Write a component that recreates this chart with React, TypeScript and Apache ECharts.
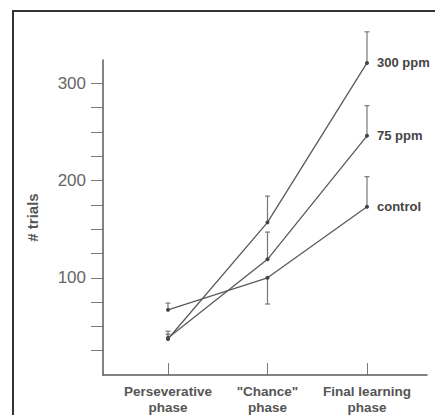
import React, { useEffect, useRef } from "react";
import * as echarts from "echarts";

const categories = ["Perseverative\nphase", "\"Chance\"\nphase", "Final learning\nphase"];
const seriesNames = ["300 ppm", "75 ppm", "control"];
const ppm300 = [37, 157, 321];
const ppm75 = [38, 119, 246];
const control = [67, 100, 173];
const err300 = [45, 184, 353];
const err75 = [42, 147, 277];
const errControl = [74, 73, 204];
const yTickValues = [25, 50, 75, 100, 125, 150, 175, 200, 225, 250, 275, 300];
const yLabelValues = [100, 200, 300];

const LINE = "#5a5a5a";
const TEXT = "#555";

export default function App() {
  const ref = useRef<HTMLDivElement>(null);
  useEffect(() => {
    if (!ref.current) return;
    const chart = echarts.init(ref.current, undefined, { renderer: "svg" });
    const values = [ppm300, ppm75, control];
    const errs = [err300, err75, errControl];
    const lineSeries = values.map((vals, si) => ({
      type: "line",
      name: seriesNames[si],
      data: vals.map((v, i) => [i, v]),
      clip: false,
      symbol: "circle",
      symbolSize: 4,
      itemStyle: { color: "#444" },
      lineStyle: { color: LINE, width: 1.3 },
      label: {
        show: true,
        position: "right",
        distance: 8,
        color: "#444",
        fontSize: 13,
        fontWeight: "bold",
        fontFamily: "Liberation Sans, Arial, sans-serif",
        formatter: (p: any) => (p.dataIndex === vals.length - 1 ? seriesNames[si] : ""),
      },
      z: 3,
    }));
    const errSeries = values.map((vals, si) => ({
      type: "custom",
      clip: false,
      data: vals.map((v, i) => [i, v, errs[si][i]]),
      renderItem: (params: any, api: any) => {
        const x = api.value(0);
        const p1 = api.coord([x, api.value(1)]);
        const p2 = api.coord([x, api.value(2)]);
        return {
          type: "group",
          children: [
            {
              type: "line",
              shape: { x1: p1[0], y1: p1[1], x2: p2[0], y2: p2[1] },
              style: { stroke: "#777", lineWidth: 1.2 },
            },
            {
              type: "line",
              shape: { x1: p2[0] - 2.5, y1: p2[1], x2: p2[0] + 2.5, y2: p2[1] },
              style: { stroke: "#777", lineWidth: 1.2 },
            },
          ],
        };
      },
      z: 2,
    }));
    chart.setOption({
      animation: false,
      grid: { left: 103, top: 60, right: 8, bottom: 38 },
      graphic: [
        {
          type: "rect",
          shape: { x: 13, y: 11, width: 440, height: 420 },
          style: { fill: "none", stroke: "#333", lineWidth: 2 },
          silent: true,
        },
      ],
      xAxis: {
        type: "value",
        min: -0.653,
        max: 2.603,
        splitLine: { show: false },
        axisLine: { show: true, onZero: false, lineStyle: { color: LINE, width: 1.5 } },
        axisTick: {
          show: true,
          inside: true,
          length: 12,
          customValues: [0, 1, 2],
          lineStyle: { color: "#777", width: 1 },
        },
        axisLabel: {
          customValues: [0, 1, 2],
          formatter: (v: number) => categories[Math.round(v)] ?? "",
          color: TEXT,
          fontSize: 13.5,
          fontWeight: "bold",
          lineHeight: 16,
          margin: 8,
          fontFamily: "Liberation Sans, Arial, sans-serif",
        },
      },
      yAxis: {
        type: "value",
        min: 0,
        max: 324,
        name: "# trials",
        nameLocation: "middle",
        nameGap: 63,
        nameTextStyle: {
          color: TEXT,
          fontSize: 15,
          fontWeight: "bold",
          fontFamily: "Liberation Sans, Arial, sans-serif",
        },
        splitLine: { show: false },
        axisLine: { show: true, onZero: false, lineStyle: { color: LINE, width: 1.5 } },
        axisTick: {
          show: true,
          length: 12,
          customValues: yTickValues,
          lineStyle: { color: "#777", width: 1 },
        },
        axisLabel: {
          customValues: yLabelValues,
          color: "#666",
          fontSize: 17,
          margin: 17,
          fontFamily: "Liberation Sans, Arial, sans-serif",
        },
      },
      series: [...errSeries, ...lineSeries],
    });
    return () => chart.dispose();
  }, []);
  return (
    <div
      ref={ref}
      style={{ position: "fixed", left: 0, top: 0, width: 435, height: 415, background: "#fff" }}
    />
  );
}
